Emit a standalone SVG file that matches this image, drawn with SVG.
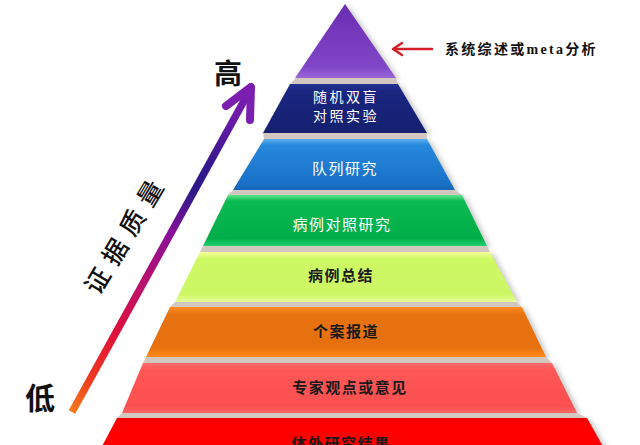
<svg xmlns="http://www.w3.org/2000/svg" width="640" height="445" viewBox="0 0 640 445">
<defs>
<style>
.lbl{font-family:"Noto Sans CJK SC","Noto Sans CJK JP",sans-serif;font-size:15px;letter-spacing:1.5px;text-anchor:middle}
.w{fill:#ffffff}
.d{fill:#1a1a1a;font-weight:bold}
.gap{fill:#d2c8c0}
.big{font-family:"Noto Sans CJK SC",sans-serif;font-weight:bold;fill:#111}
</style>
<filter id="blur" x="-20%" y="-20%" width="140%" height="140%"><feGaussianBlur stdDeviation="2.5"/></filter>
<linearGradient id="gPurple" x1="0" y1="0" x2="0" y2="1"><stop offset="0" stop-color="#6b2db2"/><stop offset="0.85" stop-color="#8146c8"/><stop offset="1" stop-color="#9a66d8"/></linearGradient>
<linearGradient id="gNavy" x1="0" y1="0" x2="0" y2="1"><stop offset="0" stop-color="#243394"/><stop offset="0.15" stop-color="#1a2680"/><stop offset="1" stop-color="#15206f"/></linearGradient>
<linearGradient id="gBlue" x1="0" y1="0" x2="0" y2="1"><stop offset="0" stop-color="#5fb0f0"/><stop offset="0.12" stop-color="#2688dc"/><stop offset="0.85" stop-color="#1a72c8"/><stop offset="1" stop-color="#1766b8"/></linearGradient>
<linearGradient id="gGreen" x1="0" y1="0" x2="0" y2="1"><stop offset="0" stop-color="#5ae888"/><stop offset="0.12" stop-color="#0cba52"/><stop offset="0.85" stop-color="#00ad48"/><stop offset="1" stop-color="#1fd070"/></linearGradient>
<linearGradient id="gYellow" x1="0" y1="0" x2="0" y2="1"><stop offset="0" stop-color="#f6ff9a"/><stop offset="0.15" stop-color="#cdf963"/><stop offset="0.85" stop-color="#cdf765"/><stop offset="1" stop-color="#eaff9c"/></linearGradient>
<linearGradient id="gOrange" x1="0" y1="0" x2="0" y2="1"><stop offset="0" stop-color="#ff8c1e"/><stop offset="0.15" stop-color="#e6720f"/><stop offset="0.8" stop-color="#e6700e"/><stop offset="1" stop-color="#ff8a18"/></linearGradient>
<linearGradient id="gPink" x1="0" y1="0" x2="0" y2="1"><stop offset="0" stop-color="#ff6a6a"/><stop offset="0.15" stop-color="#ff5656"/><stop offset="0.85" stop-color="#fb5050"/><stop offset="1" stop-color="#ff6464"/></linearGradient>
<linearGradient id="gRed" x1="0" y1="0" x2="0" y2="1"><stop offset="0" stop-color="#e80000"/><stop offset="0.15" stop-color="#ff0000"/><stop offset="1" stop-color="#ff0000"/></linearGradient>
<linearGradient id="gArrow" gradientUnits="userSpaceOnUse" x1="72" y1="412" x2="251" y2="88">
<stop offset="0" stop-color="#f57c1f"/><stop offset="0.1" stop-color="#ee3a1e"/><stop offset="0.24" stop-color="#e0103a"/><stop offset="0.4" stop-color="#b8106e"/><stop offset="0.55" stop-color="#8a1098"/><stop offset="0.68" stop-color="#2c1a88"/><stop offset="0.78" stop-color="#3a1890"/><stop offset="0.9" stop-color="#6a1aa8"/><stop offset="1" stop-color="#7b1fb0"/>
</linearGradient>
</defs>
<rect width="640" height="445" fill="#ffffff"/>

<g id="shadow" fill="#9a9a9a" opacity="0.5" filter="url(#blur)" transform="translate(4,2)">
<polygon points="345,4 396,78 295,78"/>
<polygon points="290,84 398,84 427,133 263,133"/>
<polygon points="264,139 427,139 455,190 233,190"/>
<polygon points="228,195 462,195 487,246 203,246"/>
<polygon points="200,252 490,252 517,302 175,302"/>
<polygon points="170,307 522,307 546,357 146,357"/>
<polygon points="143,363 552,363 577,413 122,413"/>
<polygon points="117,418 587,418 605,450 100,450"/>
</g>

<g id="gaps">
<polygon class="gap" points="296,78 396,78 398,84 290,84"/>
<polygon class="gap" points="263,133 427,133 427,139 264,139"/>
<polygon class="gap" points="233,190 455,190 462,195 228,195"/>
<polygon class="gap" points="203,246 487,246 490,252 200,252"/>
<polygon class="gap" points="175,302 517,302 522,307 170,307"/>
<polygon class="gap" points="146,357 546,357 552,363 143,363"/>
<polygon class="gap" points="122,413 577,413 587,418 117,418"/>
</g>

<g id="level-meta">
<polygon points="345,4 396,78 295,78" fill="url(#gPurple)"/>
</g>
<g id="level-rct">
<polygon points="290,84 398,84 427,133 263,133" fill="url(#gNavy)"/>
<text class="lbl w" x="346" y="102" style="font-size:14px;letter-spacing:2.5px">随机双盲</text>
<text class="lbl w" x="346" y="121" style="font-size:14px;letter-spacing:2.5px">对照实验</text>
</g>
<g id="level-cohort">
<polygon points="264,139 427,139 455,190 233,190" fill="url(#gBlue)"/>
<text class="lbl w" x="345" y="174">队列研究</text>
</g>
<g id="level-casecontrol">
<polygon points="228,195 462,195 487,246 203,246" fill="url(#gGreen)"/>
<text class="lbl w" x="342" y="230">病例对照研究</text>
</g>
<g id="level-caseseries">
<polygon points="200,252 490,252 517,302 175,302" fill="url(#gYellow)"/>
<text class="lbl d" x="341" y="281">病例总结</text>
</g>
<g id="level-casereport">
<polygon points="170,307 522,307 546,357 146,357" fill="url(#gOrange)"/>
<text class="lbl d" x="346" y="337">个案报道</text>
</g>
<g id="level-expert">
<polygon points="143,363 552,363 577,413 122,413" fill="url(#gPink)"/>
<text class="lbl d" x="350" y="393">专家观点或意见</text>
</g>
<g id="level-invitro">
<polygon points="117,418 587,418 605,450 100,450" fill="url(#gRed)"/>
<text class="lbl d" x="341" y="449">体外研究结果</text>
</g>

<g id="connectors" fill="none" stroke-linecap="round" stroke-linejoin="round">
<line x1="72" y1="412" x2="250" y2="90" stroke="url(#gArrow)" stroke-width="7.5" stroke-linecap="butt"/>
<polyline points="226,106 251,87 250,120" stroke="#7b1fb0" stroke-width="8"/>
<line x1="432" y1="49" x2="394" y2="49" stroke="#d42028" stroke-width="2.5"/>
<polyline points="402,43 393,49 402,55" stroke="#d42028" stroke-width="2.5"/>
</g>

<g id="labels">
<text class="big" x="228" y="84" font-size="28" text-anchor="middle">高</text>
<text class="big" x="40" y="409" font-size="30" text-anchor="middle">低</text>
<text x="0" y="0" font-family="'Noto Sans CJK SC',sans-serif" font-weight="500" fill="#111" font-size="25" text-anchor="middle" letter-spacing="9" transform="translate(134,238) rotate(-59)">证据质量</text>
<text x="445" y="54" font-family="'Liberation Serif','Noto Sans CJK SC',serif" font-weight="bold" font-size="14" letter-spacing="2.3" fill="#111">系统综述或meta分析</text>
</g>
</svg>
